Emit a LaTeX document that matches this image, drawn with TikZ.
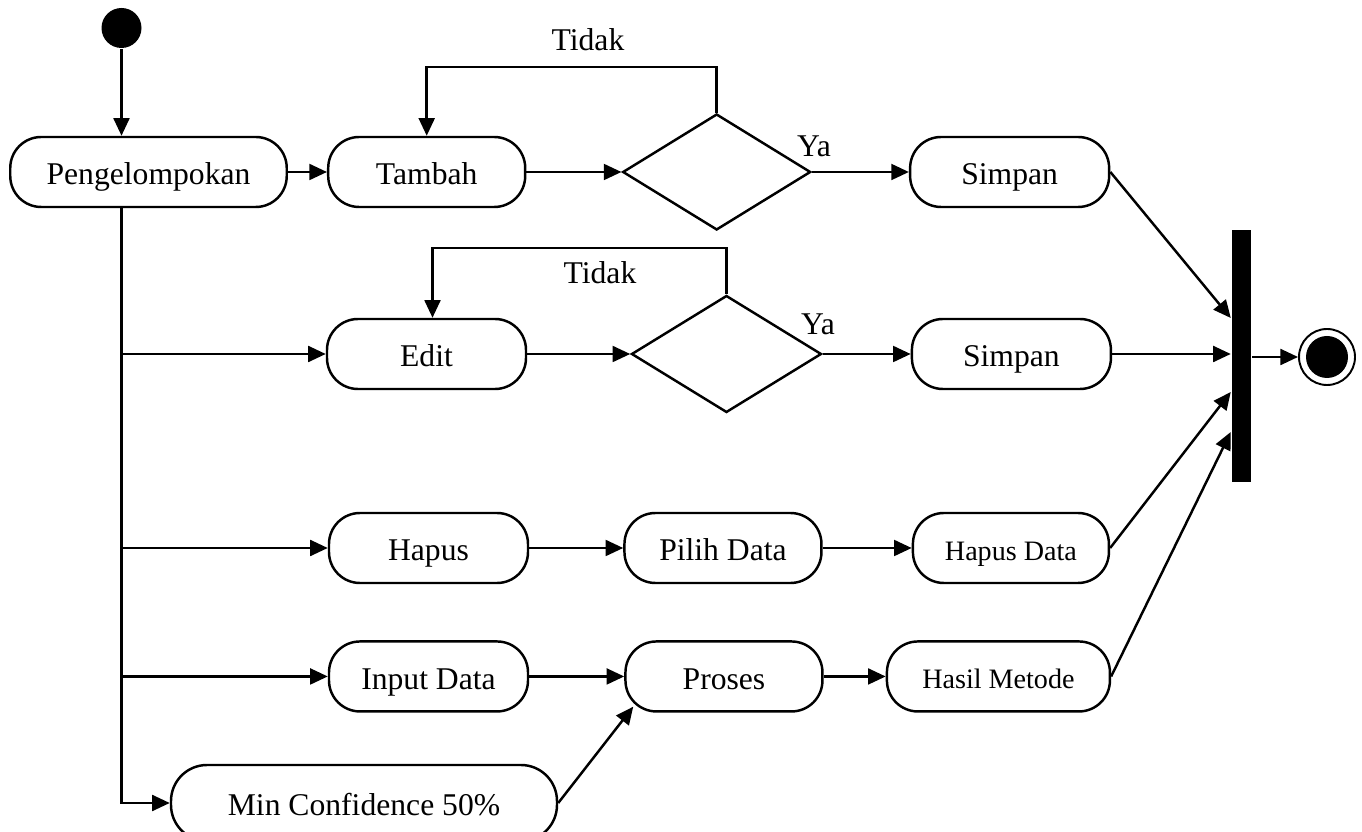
\documentclass[tikz,border=0pt]{standalone}
\usepackage{fontspec}
\setmainfont{Liberation Serif}
\usepackage{tikz}
\usetikzlibrary{positioning}
\usetikzlibrary{shapes.geometric}
\usetikzlibrary{arrows.meta}

\begin{document}
\begin{tikzpicture}[
                line width=1.4pt,
                >={Triangle[length=10pt,width=9pt]},
                roundnode/.style={rectangle, draw, rounded corners=0.62cm, minimum height=1.4cm, inner sep=2pt, text height=16pt, text depth=1.5pt, font=\fontsize{18pt}{20pt}\selectfont},
                smallroundnode/.style={roundnode, text height=15pt, text depth=1pt, font=\fontsize{16pt}{18pt}\selectfont},
                decisionnode/.style={diamond, draw, minimum width=3.76cm, minimum height=2.32cm, inner sep=0pt},
                startnode/.style={circle, fill=black, minimum size=0.8cm, inner sep=0pt},
                endnode/.style={circle, draw, line width=1.1pt, minimum size=1.12cm, inner sep=0pt},
                barnode/.style={rectangle, fill=black, minimum width=0.38cm, minimum height=5.04cm, inner sep=0pt},
                labelnode/.style={inner sep=0pt, font=\fontsize{18pt}{20pt}\selectfont},
            ]
            \useasboundingbox (0,0) rectangle (27.24,-16.64);

            % Nodes
            \node[startnode]        (start)     at (2.43,-0.56)        {};

            \node[roundnode, minimum width=5.53cm]       (grouping)     at (2.97,-3.44)        {Pengelompokan};
            \node[roundnode, minimum width=3.94cm]       (add)     [right=0.78cm of grouping]        {Tambah};
            \node[decisionnode]     (add_check)     [right=1.9cm of add]        {};
            \node[roundnode, minimum width=3.98cm]       (save_add)     [right=1.94cm of add_check]        {Simpan};

            \node[roundnode, minimum width=3.98cm]       (edit)     at (8.53,-7.08)        {Edit};
            \node[decisionnode, minimum width=3.8cm, minimum height=2.34cm]     (edit_check)     [right=2.06cm of edit]        {};
            \node[roundnode, minimum width=3.98cm]       (save_edit)     [right=1.76cm of edit_check]        {Simpan};

            \node[roundnode, minimum width=3.98cm]       (delete)     at (8.57,-10.96)        {Hapus};
            \node[roundnode, minimum width=3.94cm]       (pick_data)     [right=1.88cm of delete]        {Pilih Data};
            \node[smallroundnode, minimum width=3.92cm]  (delete_data)     [right=1.78cm of pick_data]        {Hapus Data};

            \node[roundnode, minimum width=3.98cm]       (input_data)     [below=1.12cm of delete]        {Input Data};
            \node[roundnode, minimum width=3.94cm]       (process)     [right=1.9cm of input_data]        {Proses};
            \node[smallroundnode, minimum width=4.46cm]  (method_result)     [right=1.24cm of process]        {Hasil Metode};

            \node[roundnode, rounded corners=0.72cm, minimum width=7.72cm, minimum height=1.52cm]       (min_conf)     at (7.28,-16.06)        {Min Confidence 50\%};

            \node[barnode]          (join)      at (24.83,-7.12)       {};
            \node[endnode]          (final)     at (26.54,-7.14)       {};
            \node[startnode, minimum size=0.84cm]        (final_dot)     at (final)       {};

            \node[labelnode]        (no_add)     at (11.76,-0.8)      {Tidak};
            \node[labelnode]        (yes_add)    at (16.28,-2.92)     {Ya};
            \node[labelnode]        (no_edit)    at (12.0,-5.46)      {Tidak};
            \node[labelnode]        (yes_edit)   at (16.36,-6.48)     {Ya};

            %Lines
            \draw[->] (start.south) -- (start |- grouping.north);
            \draw[->] (grouping.east) -- (add.west);
            \draw[->] (add.east) -- (add_check.west);
            \draw[->] (add_check.east) -- (save_add.west);
            \draw[->] (add_check.north) -- ++(0,0.92) -| (add.north);

            \draw[->] (start |- grouping.south) |- (min_conf.west);
            \draw[->] (start |- edit) -- (edit.west);
            \draw[->] (start |- delete) -- (delete.west);
            \draw[->] (start |- input_data) -- (input_data.west);

            \draw[->] (edit.east) -- (edit_check.west);
            \draw[->] (edit_check.east) -- (save_edit.west);
            \draw[->] (edit_check.north) -- ++(0,0.93) -| ([xshift=0.12cm]edit.north);

            \draw[->] (delete.east) -- (pick_data.west);
            \draw[->] (pick_data.east) -- (delete_data.west);

            \draw[->] (input_data.east) -- (process.west);
            \draw[->] (process.east) -- (method_result.west);
            \draw[->] (min_conf.east) -- ([xshift=0.18cm,yshift=0.12cm]process.south west);

            \draw[->] (save_add.east) -- ([yshift=0.76cm]join.west);
            \draw[->] (save_edit.east) -- (join.west |- save_edit.east);
            \draw[->] (delete_data.east) -- ([yshift=-0.72cm]join.west);
            \draw[->] (method_result.east) -- ([yshift=-1.52cm]join.west);
            \draw[->] (join.east |- final) -- (final.west);
\end{tikzpicture}
\end{document}
